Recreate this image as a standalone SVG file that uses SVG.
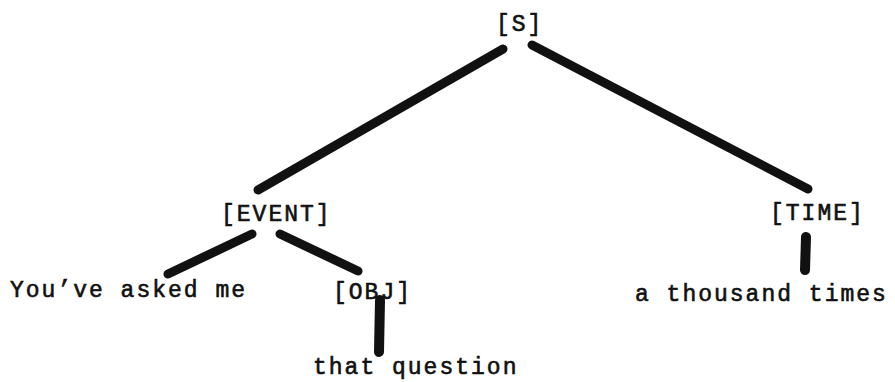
<svg xmlns="http://www.w3.org/2000/svg" width="895" height="382" viewBox="0 0 895 382">
<style>
.lbl{font-family:"Liberation Mono","DejaVu Sans Mono",monospace;font-size:23px;letter-spacing:2px;fill:#111;stroke:#111;stroke-width:0.6;}
.edge{stroke:#111;stroke-width:9;stroke-linecap:round;fill:none;}
.vert{stroke-width:10;}
</style>
<rect width="895" height="382" fill="#fff"/>
<g id="connectors">
<line class="edge" x1="503" y1="49" x2="258" y2="190"/>
<line class="edge" x1="532" y1="45" x2="808" y2="189"/>
<line class="edge" x1="252" y1="234" x2="168" y2="274"/>
<line class="edge" x1="280" y1="234" x2="358" y2="271"/>
<line class="edge vert" x1="380" y1="300" x2="379" y2="352"/>
<line class="edge vert" x1="806" y1="237" x2="805" y2="270"/>
</g>
<g id="S"><text class="lbl" x="496" y="31">[S]</text></g>
<g id="EVENT"><text class="lbl" x="221" y="221">[EVENT]</text></g>
<g id="TIME"><text class="lbl" x="770" y="220">[TIME]</text></g>
<g id="youve"><text class="lbl" x="10" y="297">You’ve asked me</text></g>
<g id="OBJ"><text class="lbl" x="333" y="299">[OBJ]</text></g>
<g id="thousand"><text class="lbl" x="635" y="301">a thousand times</text></g>
<g id="question"><text class="lbl" x="313" y="374">that question</text></g>
</svg>
